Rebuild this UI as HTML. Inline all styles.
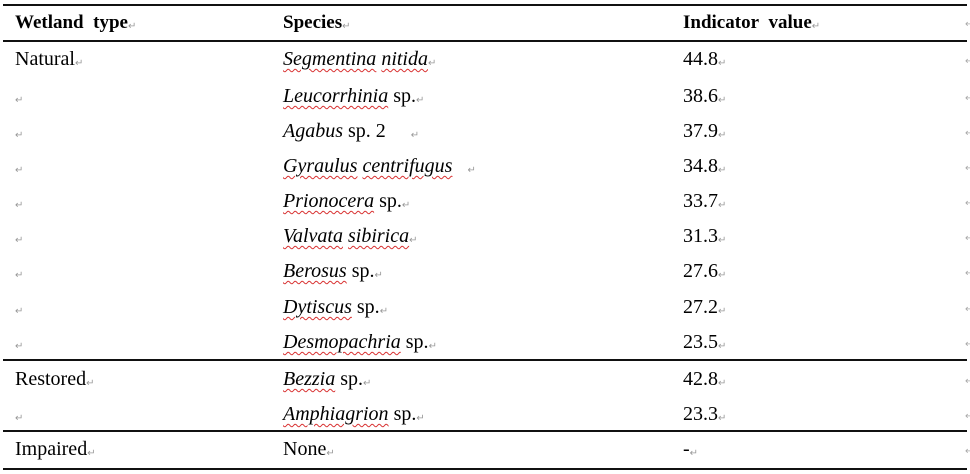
<!DOCTYPE html>
<html>
<head>
<meta charset="utf-8">
<style>
html,body{margin:0;padding:0;background:#fff;}
body{width:970px;height:474px;position:relative;overflow:hidden;font-family:"Liberation Serif","Times New Roman",serif;color:#000;}
.hl{position:absolute;left:3px;width:964px;height:1.5px;background:#111;}
.t{position:absolute;font-size:20px;line-height:20px;white-space:pre;}
.h{position:absolute;font-size:19px;line-height:20px;font-weight:bold;white-space:pre;}
.r{font-size:10px;color:#999;font-style:normal;font-weight:normal;vertical-align:-1px;text-decoration:none;}
.w{text-decoration:underline wavy #d83030;text-decoration-thickness:1px;text-underline-offset:3px;}
i{font-style:italic;}
.m{position:absolute;left:965px;font-size:10px;color:#aaa;line-height:10px;}
</style>
</head>
<body>
<div class="hl" style="top:4px"></div>
<div class="hl" style="top:40px"></div>
<div class="hl" style="top:359px"></div>
<div class="hl" style="top:430px"></div>
<div class="hl" style="top:468px"></div>

<div class="h" style="left:15px;top:13px">Wetland&nbsp; type<span class="r">↵</span></div>
<div class="h" style="left:283px;top:13px">Species<span class="r">↵</span></div>
<div class="h" style="left:683px;top:13px">Indicator&nbsp; value<span class="r">↵</span></div>

<!-- column 1 -->
<div class="t" style="left:15px;top:49px">Natural<span class="r">↵</span></div>
<div class="t" style="left:15px;top:86px"><span class="r">↵</span></div>
<div class="t" style="left:15px;top:121px"><span class="r">↵</span></div>
<div class="t" style="left:15px;top:156px"><span class="r">↵</span></div>
<div class="t" style="left:15px;top:191px"><span class="r">↵</span></div>
<div class="t" style="left:15px;top:226px"><span class="r">↵</span></div>
<div class="t" style="left:15px;top:261px"><span class="r">↵</span></div>
<div class="t" style="left:15px;top:297px"><span class="r">↵</span></div>
<div class="t" style="left:15px;top:332px"><span class="r">↵</span></div>
<div class="t" style="left:15px;top:369px">Restored<span class="r">↵</span></div>
<div class="t" style="left:15px;top:404px"><span class="r">↵</span></div>
<div class="t" style="left:15px;top:439px">Impaired<span class="r">↵</span></div>

<!-- column 2 -->
<div class="t" style="left:283px;top:49px"><i class="w">Segmentina</i><i> </i><i class="w">nitida</i><span class="r">↵</span></div>
<div class="t" style="left:283px;top:86px"><i class="w">Leucorrhinia</i> sp.<span class="r">↵</span></div>
<div class="t" style="left:283px;top:121px"><i>Agabus</i> sp. 2     <span class="r">↵</span></div>
<div class="t" style="left:283px;top:156px"><i class="w">Gyraulus</i><i> </i><i class="w">centrifugus</i>   <span class="r">↵</span></div>
<div class="t" style="left:283px;top:191px"><i class="w">Prionocera</i> sp.<span class="r">↵</span></div>
<div class="t" style="left:283px;top:226px"><i class="w">Valvata</i><i> </i><i class="w">sibirica</i><span class="r">↵</span></div>
<div class="t" style="left:283px;top:261px"><i class="w">Berosus</i> sp.<span class="r">↵</span></div>
<div class="t" style="left:283px;top:297px"><i class="w">Dytiscus</i> sp.<span class="r">↵</span></div>
<div class="t" style="left:283px;top:332px"><i class="w">Desmopachria</i> sp.<span class="r">↵</span></div>
<div class="t" style="left:283px;top:369px"><i class="w">Bezzia</i> sp.<span class="r">↵</span></div>
<div class="t" style="left:283px;top:404px"><i class="w">Amphiagrion</i> sp.<span class="r">↵</span></div>
<div class="t" style="left:283px;top:439px">None<span class="r">↵</span></div>

<!-- column 3 -->
<div class="t" style="left:683px;top:49px">44.8<span class="r">↵</span></div>
<div class="t" style="left:683px;top:86px">38.6<span class="r">↵</span></div>
<div class="t" style="left:683px;top:121px">37.9<span class="r">↵</span></div>
<div class="t" style="left:683px;top:156px">34.8<span class="r">↵</span></div>
<div class="t" style="left:683px;top:191px">33.7<span class="r">↵</span></div>
<div class="t" style="left:683px;top:226px">31.3<span class="r">↵</span></div>
<div class="t" style="left:683px;top:261px">27.6<span class="r">↵</span></div>
<div class="t" style="left:683px;top:297px">27.2<span class="r">↵</span></div>
<div class="t" style="left:683px;top:332px">23.5<span class="r">↵</span></div>
<div class="t" style="left:683px;top:369px">42.8<span class="r">↵</span></div>
<div class="t" style="left:683px;top:404px">23.3<span class="r">↵</span></div>
<div class="t" style="left:683px;top:439px">-<span class="r">↵</span></div>

<!-- end-of-row marks at right edge -->
<div class="m" style="top:20px">↵</div>
<div class="m" style="top:57px">↵</div>
<div class="m" style="top:94px">↵</div>
<div class="m" style="top:129px">↵</div>
<div class="m" style="top:164px">↵</div>
<div class="m" style="top:199px">↵</div>
<div class="m" style="top:234px">↵</div>
<div class="m" style="top:269px">↵</div>
<div class="m" style="top:305px">↵</div>
<div class="m" style="top:340px">↵</div>
<div class="m" style="top:377px">↵</div>
<div class="m" style="top:412px">↵</div>
<div class="m" style="top:447px">↵</div>
</body>
</html>
